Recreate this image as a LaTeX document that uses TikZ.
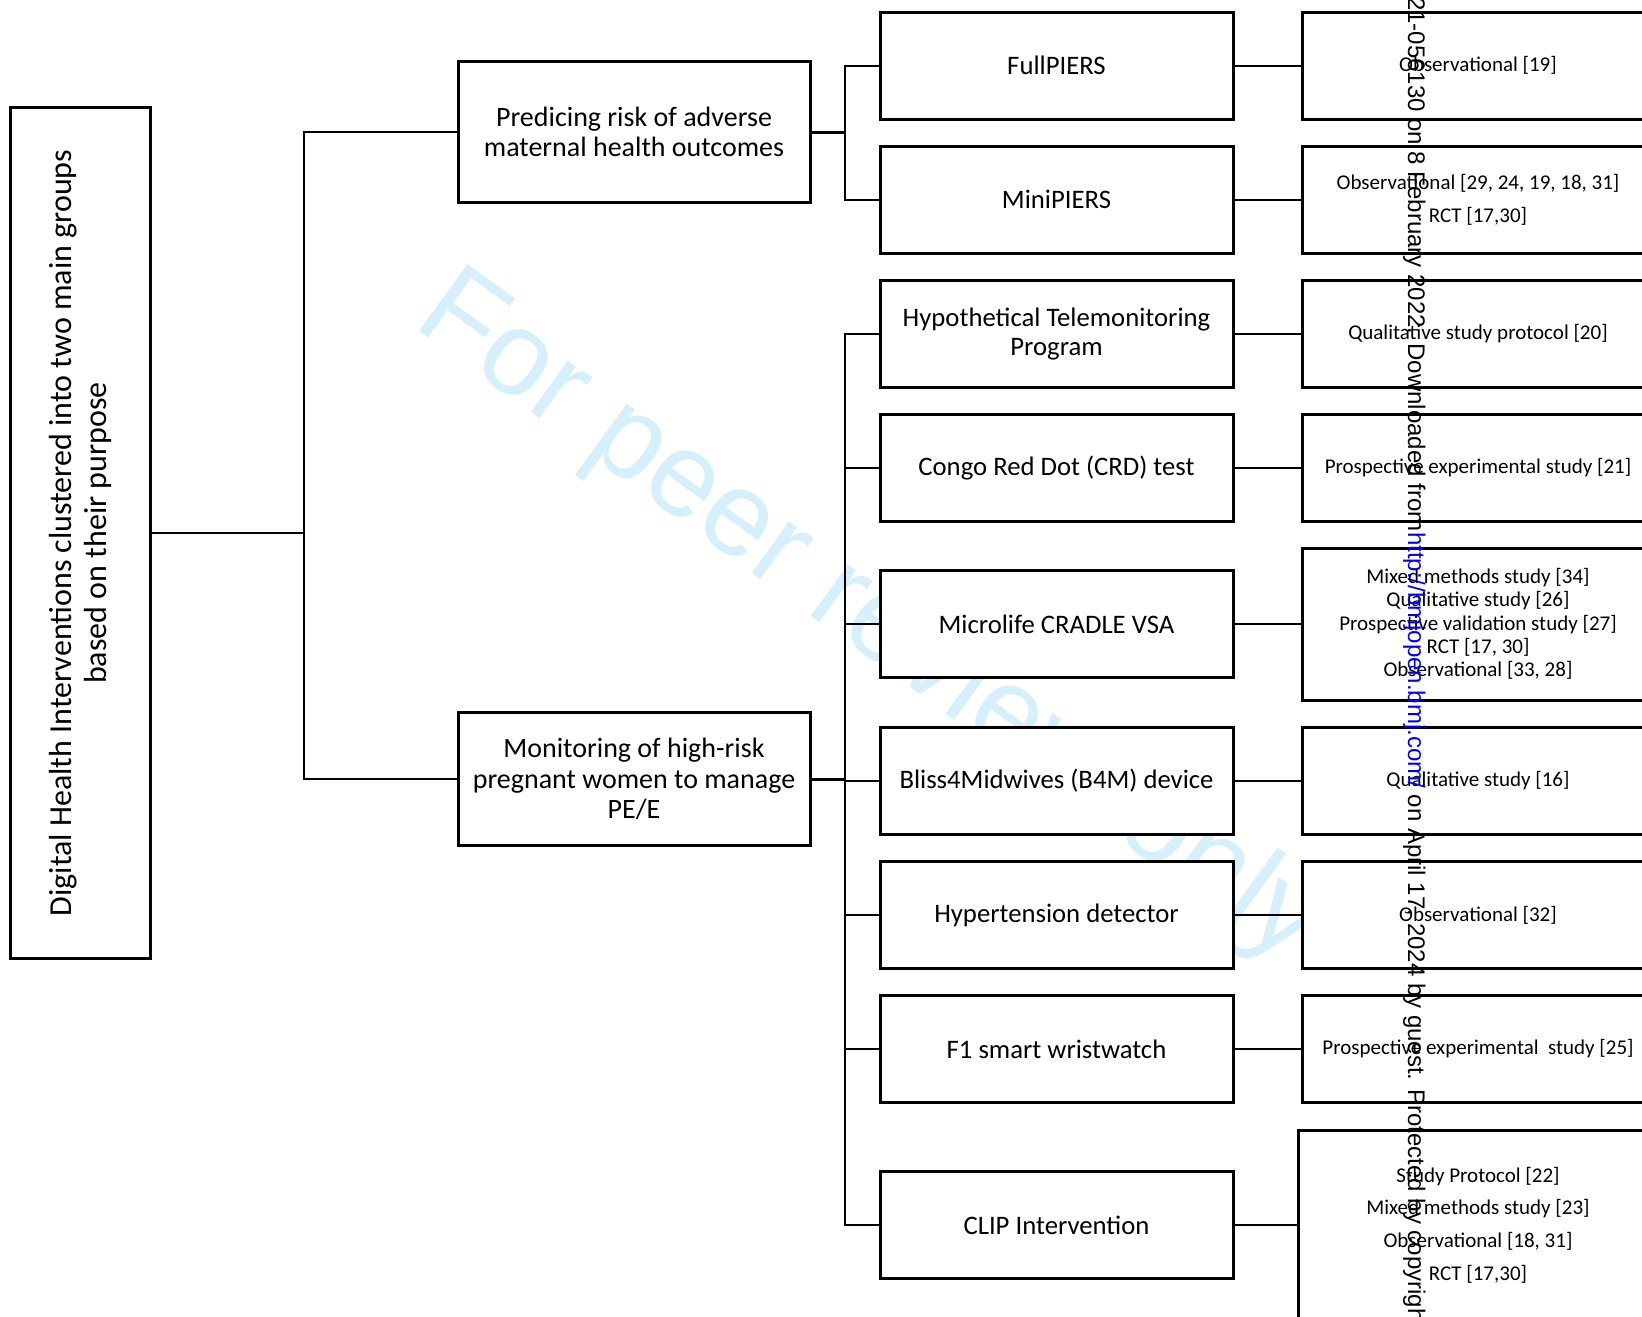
\documentclass[tikz,border=0pt]{standalone}
\usepackage{fontspec}
\setmainfont{Carlito}
\newfontfamily\stampfont{Liberation Sans}
\definecolor{wmblue}{RGB}{214,240,251}
\definecolor{linkblue}{RGB}{0,0,255}
\tikzset{
  box/.style={draw=black, line width=3pt, fill=white, inner sep=0pt, align=center},
  rootbox/.style={box, rotate=90, minimum width=851pt, minimum height=140pt, font=\fontsize{32}{35}\selectfont},
  groupbox/.style={box, minimum width=352pt, font=\fontsize{28}{30.4}\selectfont},
  toolbox/.style={box, minimum width=353pt, minimum height=107pt, font=\fontsize{26.7}{29.3}\selectfont},
  studybox/.style={box, minimum width=352pt, minimum height=107pt, font=\fontsize{21}{23.3}\selectfont},
  conn/.style={line width=2pt, draw=black},
  connthick/.style={line width=3pt, draw=black},
  stamp/.style={rotate=-90, inner sep=0pt, font=\stampfont\fontsize{24}{24}\selectfont},
}
\begin{document}
\begin{tikzpicture}[x=1pt,y=-1pt]
\useasboundingbox (0,0) rectangle (1642,1317);
\clip (0,0) rectangle (1642,1317);
% watermark
\node[rotate=-36, anchor=base west, inner sep=0pt, text=wmblue, font=\stampfont\fontsize{120}{120}\selectfont] (wm) at (411,325) {For peer review only};
% root and groups
\node[rootbox] (root) at (80.5,533) {Digital Health Interventions clustered into two main groups\\based on their purpose};
\node[groupbox, minimum height=141pt] (pred) at (634,132) {Predicing risk of adverse\\maternal health outcomes};
\node[groupbox, minimum height=133pt] (mon) at (634,779) {Monitoring of high-risk\\pregnant women to manage\\PE/E};
% tools
\node[toolbox] (full) at (1056.5,65.5) {FullPIERS};
\node[toolbox] (mini) at (1056.5,199.5) {MiniPIERS};
\node[toolbox] (hypo) at (1056.5,334) {Hypothetical Telemonitoring\\Program};
\node[toolbox] (congo) at (1056.5,468) {Congo Red Dot (CRD) test};
\node[toolbox] (cradle) at (1056.5,624) {Microlife CRADLE VSA};
\node[toolbox] (bliss) at (1056.5,781) {Bliss4Midwives (B4M) device};
\node[toolbox] (hyper) at (1056.5,915) {Hypertension detector};
\node[toolbox] (wrist) at (1056.5,1049) {F1 smart wristwatch};
\node[toolbox] (clip) at (1056.5,1225) {CLIP Intervention};
% studies
\node[studybox] (r1) at (1478,65.5) {Observational [19]};
\node[studybox, font=\fontsize{21}{33.3}\selectfont] (r2) at (1478,199.5) {Observational [29, 24, 19, 18, 31]\\RCT [17,30]};
\node[studybox] (r3) at (1478,334) {Qualitative study protocol [20]};
\node[studybox] (r4) at (1478,468) {Prospective experimental study [21]};
\node[studybox, minimum height=152pt] (r5) at (1478,624) {Mixed methods study [34]\\Qualitative study [26]\\Prospective validation study [27]\\RCT [17, 30]\\Observational [33, 28]};
\node[studybox] (r6) at (1478,781) {Qualitative study [16]};
\node[studybox] (r7) at (1478,915) {Observational [32]};
\node[studybox] (r8) at (1478,1049) {Prospective experimental\ \ study [25]};
\node[studybox, minimum width=360pt, minimum height=190pt, font=\fontsize{21}{32.7}\selectfont] (r9) at (1478,1225) {Study Protocol [22]\\Mixed methods study [23]\\Observational [18, 31]\\RCT [17,30]};
% connectors
\coordinate (busA) at (303.7,0);
\coordinate (busB) at (845,0);
\draw[conn] (root) -- (root -| busA);
\draw[conn] (pred.west) -| (busA |- mon.west) -- (mon.west);
\draw[connthick] (pred.east) -- (pred.east -| busB);
\draw[conn] (full.west) -| (busB |- mini.west) -- (mini.west);
\draw[connthick] (mon.east) -- (mon.east -| busB);
\draw[conn] (hypo.west) -| (busB |- clip.west) -- (clip.west);
\foreach \n in {congo,cradle,bliss,hyper,wrist} \draw[conn] (\n.west) -- (\n.west -| busB);
\foreach \a/\b in {full/r1,mini/r2,hypo/r3,congo/r4,cradle/r5,bliss/r6,hyper/r7,wrist/r8,clip/r9} \draw[conn] (\a) -- (\b);
% stamp
\node[stamp, anchor=base east] (stampA) at (1408,532) {BMJ Open: first published as 10.1136/bmjopen-2021-056130 on 8 February 2022. Downloaded from\ };
\node[stamp, anchor=base west] (stampB) at (1408,532) {\textcolor{linkblue}{http://bmjopen.bmj.com/} on April 17, 2024 by guest. Protected by copyright.};
\end{tikzpicture}
\end{document}
